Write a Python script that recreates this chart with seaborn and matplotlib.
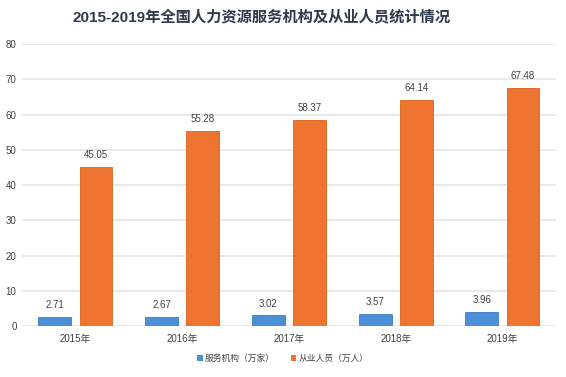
import matplotlib
matplotlib.use("Agg")
import matplotlib.pyplot as plt
from matplotlib.patches import Patch
import seaborn as sns
import pandas as pd

years = ["2015年", "2016年", "2017年", "2018年", "2019年"]
org_counts = [2.71, 2.67, 3.02, 3.57, 3.96]
staff_counts = [45.05, 55.28, 58.37, 64.14, 67.48]
series_names = ["服务机构（万家）", "从业人员（万人）"]
colors = ["#4a8fd8", "#ef7430"]

df = pd.DataFrame({
    "year": years * 2,
    "value": org_counts + staff_counts,
    "series": [series_names[0]] * 5 + [series_names[1]] * 5,
})

sns.set_theme(style="white")
plt.rcParams["font.family"] = ["Liberation Sans", "Noto Sans CJK SC", "DejaVu Sans"]

fig = plt.figure(figsize=(5.66, 3.77), dpi=100)
ax = fig.add_axes([0.039, 0.135, 0.943, 0.748])

sns.barplot(data=df, x="year", y="value", hue="series", palette=colors,
            width=0.77, gap=0.2, ax=ax, legend=False, saturation=1,
            edgecolor=None, linewidth=0)

for i, cont in enumerate(ax.containers):
    for p in cont:
        p.set_edgecolor(["#3b7cc4", "#d9621f"][i])
        p.set_linewidth(0.6)
    ax.bar_label(cont, labels=[f"{v:.2f}" for v in cont.datavalues],
                 padding=5, fontsize=7, color="#404040")

ax.set_ylim(0, 80)
ax.set_yticks(range(0, 81, 10))
ax.set_xlim(-0.5, 4.5)
ax.yaxis.grid(True, color="#e4e8ee", linewidth=1.3)
ax.set_axisbelow(True)
for s in ax.spines.values():
    s.set_visible(False)
ax.tick_params(axis="both", length=0, labelsize=7, colors="#404040", pad=4)
ax.tick_params(axis="x", pad=6)
ax.set_xlabel("")
ax.set_ylabel("")

fig.text(0.462, 0.952, "2015-2019年全国人力资源服务机构及从业人员统计情况",
         ha="center", va="center", fontsize=11, fontweight="bold", color="#2e3a4d")

handles = [Patch(facecolor=c, edgecolor="none") for c in colors]
fig.legend(handles, series_names, loc="center", bbox_to_anchor=(0.5, 0.05),
           ncol=2, frameon=False, fontsize=6.3, handlelength=0.6, handleheight=0.7,
           handletextpad=0.3, columnspacing=1.8, labelcolor="#404040")

fig.savefig("out.png", dpi=100)
